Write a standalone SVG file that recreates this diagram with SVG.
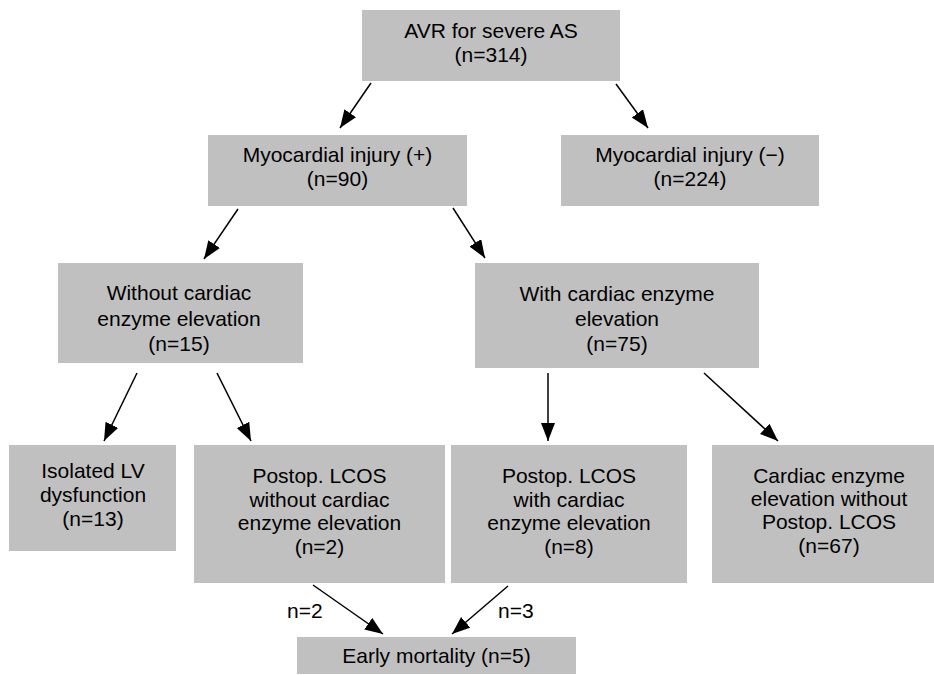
<svg xmlns="http://www.w3.org/2000/svg" width="934" height="675" viewBox="0 0 934 675">
<style>
.box{fill:#c0c0c0;stroke:none}
text{font-family:"Liberation Sans",Arial,sans-serif;font-size:21px;fill:#000;text-anchor:middle}
.lbl{text-anchor:start}
.conn line{stroke:#000;stroke-width:1.5;marker-end:url(#ah)}
</style>
<defs>
<marker id="ah" markerUnits="userSpaceOnUse" markerWidth="19" markerHeight="15" refX="18" refY="7" orient="auto">
<path d="M0,0 L18,7 L0,14 z" fill="#000"/>
</marker>
</defs>
<rect width="934" height="675" fill="#fff"/>
<g id="n-avr"><rect class="box" x="362" y="10" width="258" height="71"/><text x="491" y="38">AVR for severe AS</text><text x="491" y="62">(n=314)</text></g>
<g id="n-myo-pos"><rect class="box" x="208" y="135" width="259" height="71"/><text x="337.5" y="162">Myocardial injury (+)</text><text x="337.5" y="186">(n=90)</text></g>
<g id="n-myo-neg"><rect class="box" x="561" y="135" width="258" height="71"/><text x="690" y="162">Myocardial injury (−)</text><text x="690" y="186">(n=224)</text></g>
<g id="n-without"><rect class="box" x="58" y="263" width="245" height="100"/><text x="179" y="300">Without cardiac</text><text x="179" y="326">enzyme elevation</text><text x="179" y="351">(n=15)</text></g>
<g id="n-with"><rect class="box" x="475" y="263" width="284" height="105"/><text x="617" y="301">With cardiac enzyme</text><text x="617" y="326">elevation</text><text x="617" y="351">(n=75)</text></g>
<g id="n-isolated"><rect class="box" x="9" y="445" width="167" height="106"/><text x="93" y="478">Isolated LV</text><text x="93" y="502">dysfunction</text><text x="93" y="526">(n=13)</text></g>
<g id="n-lcos-without"><rect class="box" x="194" y="445" width="251" height="138"/><text x="319.5" y="483">Postop. LCOS</text><text x="319.5" y="507">without cardiac</text><text x="319.5" y="530">enzyme elevation</text><text x="319.5" y="554">(n=2)</text></g>
<g id="n-lcos-with"><rect class="box" x="451" y="445" width="236" height="138"/><text x="569" y="483">Postop. LCOS</text><text x="569" y="507">with cardiac</text><text x="569" y="530">enzyme elevation</text><text x="569" y="554">(n=8)</text></g>
<g id="n-enzyme-no-lcos"><rect class="box" x="712" y="445" width="222" height="138"/><text x="829" y="483">Cardiac enzyme</text><text x="829" y="506">elevation without</text><text x="829" y="529">Postop. LCOS</text><text x="829" y="553">(n=67)</text></g>
<g id="n-mortality"><rect class="box" x="297" y="637" width="279" height="37"/><text x="436.5" y="663">Early mortality (n=5)</text></g>
<g id="connectors" class="conn">
<line x1="371" y1="83" x2="340" y2="128"/>
<line x1="616" y1="84" x2="648" y2="128"/>
<line x1="238" y1="209" x2="204" y2="259"/>
<line x1="453" y1="208" x2="485" y2="258"/>
<line x1="137" y1="373" x2="104" y2="441"/>
<line x1="217" y1="373" x2="251" y2="441"/>
<line x1="548" y1="373" x2="548" y2="441"/>
<line x1="704" y1="373" x2="778" y2="441"/>
<line x1="313" y1="585" x2="383" y2="634"/>
<line x1="508" y1="586" x2="452" y2="634"/>
</g>
<g id="edge-labels">
<text class="lbl" x="287" y="618">n=2</text>
<text class="lbl" x="498" y="618">n=3</text>
</g>
</svg>
